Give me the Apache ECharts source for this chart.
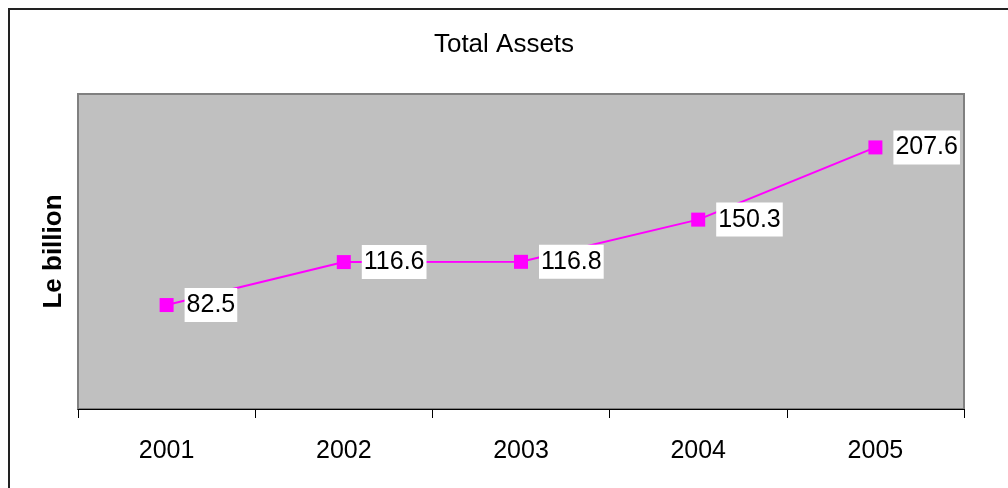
<!DOCTYPE html>
<html>
<head>
<meta charset="utf-8">
<script src="https://cdn.jsdelivr.net/npm/echarts@6/dist/echarts.min.js"></script>
<style>
  html, body { margin: 0; padding: 0; background: #fff; }
  #chart { width: 1008px; height: 488px; }
</style>
</head>
<body>
<div id="chart"></div>
<script>
// data
var years = ['2001', '2002', '2003', '2004', '2005'];
var totalAssets = [82.5, 116.6, 116.8, 150.3, 207.6];

var font = '"Liberation Sans", Arial, sans-serif';

var chart = echarts.init(document.getElementById('chart'));

var option = {
    animation: false,
    backgroundColor: '#fff',
    textStyle: { fontFamily: font },
    title: {
        text: 'Total Assets',
        left: 'center',
        top: 27,
        textStyle: { fontFamily: font, fontSize: 26, fontWeight: 'normal', color: '#000' }
    },
    graphic: [
        {
            // outer chart frame (only left and top edges are inside the picture)
            type: 'rect',
            shape: { x: 9, y: 9, width: 1200, height: 700 },
            style: { fill: 'none', stroke: '#222', lineWidth: 2 },
            silent: true
        }
    ],
    grid: {
        left: 78,
        top: 94,
        right: 44,
        bottom: 79,
        show: true,
        backgroundColor: '#c0c0c0',
        borderColor: '#808080',
        borderWidth: 2
    },
    xAxis: {
        type: 'category',
        data: years,
        boundaryGap: true,
        axisLine: { lineStyle: { color: '#000', width: 1 } },
        axisTick: { show: true, length: 9, lineStyle: { color: '#000' } },
        axisLabel: { color: '#000', fontSize: 25, fontFamily: font, margin: 30 },
        splitLine: { show: false }
    },
    yAxis: {
        type: 'value',
        min: 0,
        max: 250,
        name: 'Le billion',
        nameLocation: 'middle',
        nameGap: 11,
        nameTextStyle: { color: '#000', fontSize: 26, fontWeight: 'bold', fontFamily: font },
        axisLine: { show: false },
        axisTick: { show: false },
        axisLabel: { show: false },
        splitLine: { show: false }
    },
    series: [
        {
            name: 'Total Assets',
            type: 'line',
            data: totalAssets,
            symbol: 'rect',
            symbolSize: 14,
            lineStyle: { color: '#ff00ff', width: 2 },
            itemStyle: { color: '#ff00ff' },
            label: {
                show: true,
                position: 'right',
                distance: 11,
                color: '#000',
                fontSize: 25,
                fontFamily: font,
                backgroundColor: '#fff',
                padding: [5, 2, 4, 2]
            }
        }
    ]
};

chart.setOption(option);
</script>
</body>
</html>
